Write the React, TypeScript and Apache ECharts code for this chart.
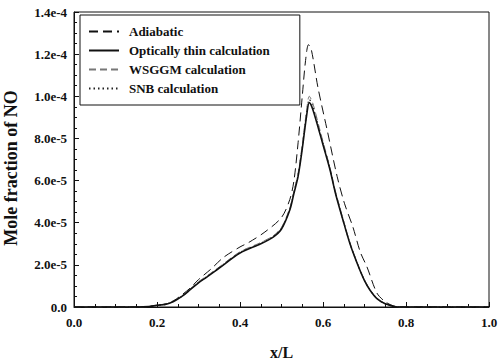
import React, { useEffect, useRef } from "react";
import * as echarts from "echarts";

const seriesNames = [
  "Adiabatic",
  "Optically thin calculation",
  "WSGGM calculation",
  "SNB calculation",
];

const xAdiabatic = [0, 0.15, 0.18, 0.2, 0.22, 0.24, 0.26, 0.28, 0.3, 0.33, 0.36, 0.4, 0.42, 0.46, 0.5, 0.52, 0.53, 0.54, 0.55, 0.558, 0.565, 0.572, 0.588, 0.61, 0.634, 0.652, 0.672, 0.69, 0.706, 0.73, 0.75, 0.77, 0.79, 1.0];
const yAdiabatic = [0, 0, 2e-7, 8e-7, 1.5e-6, 3e-6, 5.8e-6, 9.0e-6, 1.3e-5, 1.8e-5, 2.35e-5, 2.85e-5, 3.05e-5, 3.56e-5, 4.25e-5, 5.1e-5, 6.0e-5, 7.8e-5, 1.0e-4, 1.17e-4, 1.245e-4, 1.22e-4, 1.04e-4, 8.4e-5, 6.2e-5, 4.9e-5, 3.8e-5, 2.6e-5, 1.9e-5, 6.6e-6, 2.5e-6, 5e-7, 0, 0];

const xThin = [0, 0.15, 0.18, 0.2, 0.22, 0.24, 0.26, 0.28, 0.3, 0.32, 0.35, 0.4, 0.45, 0.48, 0.5, 0.52, 0.53, 0.54, 0.55, 0.56, 0.567, 0.575, 0.59, 0.6, 0.617, 0.63, 0.648, 0.665, 0.682, 0.7, 0.713, 0.73, 0.75, 0.77, 0.78, 1.0];
const yThin = [0, 0, 2e-7, 8e-7, 1.2e-6, 2.6e-6, 5e-6, 8.2e-6, 1.15e-5, 1.42e-5, 1.85e-5, 2.56e-5, 3.0e-5, 3.32e-5, 3.7e-5, 4.6e-5, 5.4e-5, 6.2e-5, 7.5e-5, 9.0e-5, 9.7e-5, 9.4e-5, 8.4e-5, 7.7e-5, 6.5e-5, 5.4e-5, 4.13e-5, 3.0e-5, 2.09e-5, 1.25e-5, 8.1e-6, 4e-6, 1.5e-6, 3e-7, 0, 0];

const xWsggm = [0, 0.15, 0.18, 0.2, 0.22, 0.24, 0.26, 0.28, 0.3, 0.32, 0.35, 0.4, 0.45, 0.48, 0.5, 0.52, 0.53, 0.54, 0.55, 0.56, 0.567, 0.575, 0.59, 0.6, 0.617, 0.63, 0.648, 0.665, 0.682, 0.7, 0.713, 0.73, 0.75, 0.77, 0.78, 1.0];
const yWsggm = [0, 0, 2e-7, 8e-7, 1.3e-6, 2.8e-6, 5.3e-6, 8.6e-6, 1.2e-5, 1.47e-5, 1.9e-5, 2.62e-5, 3.06e-5, 3.38e-5, 3.78e-5, 4.7e-5, 5.5e-5, 6.35e-5, 7.7e-5, 9.25e-5, 1.0e-4, 9.7e-5, 8.6e-5, 7.85e-5, 6.6e-5, 5.5e-5, 4.2e-5, 3.05e-5, 2.12e-5, 1.28e-5, 8.3e-6, 4.1e-6, 1.6e-6, 3e-7, 0, 0];

const xSnb = [0, 0.15, 0.18, 0.2, 0.22, 0.24, 0.26, 0.28, 0.3, 0.32, 0.35, 0.4, 0.45, 0.48, 0.5, 0.52, 0.53, 0.54, 0.55, 0.56, 0.567, 0.575, 0.59, 0.6, 0.617, 0.63, 0.648, 0.665, 0.682, 0.7, 0.713, 0.73, 0.75, 0.77, 0.78, 1.0];
const ySnb = [0, 0, 2e-7, 8e-7, 1.25e-6, 2.7e-6, 5.1e-6, 8.4e-6, 1.17e-5, 1.44e-5, 1.87e-5, 2.59e-5, 3.03e-5, 3.35e-5, 3.74e-5, 4.65e-5, 5.45e-5, 6.28e-5, 7.6e-5, 9.12e-5, 9.85e-5, 9.55e-5, 8.5e-5, 7.78e-5, 6.55e-5, 5.45e-5, 4.16e-5, 3.02e-5, 2.1e-5, 1.26e-5, 8.2e-6, 4.05e-6, 1.55e-6, 3e-7, 0, 0];

const xTicks = [0, 0.2, 0.4, 0.6, 0.8, 1.0];
const yTicks = [0, 2e-5, 4e-5, 6e-5, 8e-5, 1e-4, 1.2e-4, 1.4e-4];
const xTitle = "x/L";
const yTitle = "Mole fraction of NO";

const pairs = (xs: number[], ys: number[]) => xs.map((x, i) => [x, ys[i]]);

const FONT = "'Liberation Serif', 'Times New Roman', serif";

export default function App() {
  const ref = useRef<HTMLDivElement>(null);
  useEffect(() => {
    if (!ref.current) return;
    const chart = echarts.init(ref.current, undefined, { renderer: "svg" });
    const styles = [
      { type: [9, 5] as any, width: 1, color: "#111" },
      { type: "solid" as any, width: 1.6, color: "#111" },
      { type: [7, 4] as any, width: 1, color: "#777" },
      { type: [1.5, 3] as any, width: 1.2, color: "#222" },
    ];
    const data = [
      pairs(xAdiabatic, yAdiabatic),
      pairs(xThin, yThin),
      pairs(xWsggm, yWsggm),
      pairs(xSnb, ySnb),
    ];
    chart.setOption({
      animation: false,
      backgroundColor: "#fff",
      textStyle: { fontFamily: FONT },
      grid: {
        left: 74,
        right: 11,
        top: 12,
        bottom: 52,
        show: true,
        borderColor: "#111",
        borderWidth: 1,
        containLabel: false,
        outerBoundsMode: "none",
      },
      graphic: [
        {
          type: "text",
          x: 11,
          y: 168,
          rotation: Math.PI / 2,
          style: {
            text: yTitle,
            fontFamily: FONT,
            fontWeight: "bold",
            fontSize: 18,
            fill: "#111",
            align: "center",
            verticalAlign: "middle",
          },
        },
      ],
      legend: {
        orient: "vertical",
        left: 80,
        top: 15,
        data: seriesNames,
        itemWidth: 30,
        itemHeight: 10,
        itemGap: 6,
        padding: [10, 30, 10, 8],
        borderColor: "#111",
        borderWidth: 1,
        backgroundColor: "#fff",
        itemStyle: { opacity: 0 },
        textStyle: {
          fontFamily: FONT,
          fontWeight: "bold",
          fontSize: 13,
          color: "#111",
          padding: [0, 0, 0, 5],
        },
      },
      xAxis: {
        type: "value",
        min: xTicks[0],
        max: xTicks[xTicks.length - 1],
        interval: 0.2,
        name: xTitle,
        nameLocation: "middle",
        nameGap: 37,
        nameTextStyle: { fontFamily: FONT, fontWeight: "bold", fontSize: 16, color: "#111" },
        axisLine: { lineStyle: { color: "#111" } },
        axisTick: { inside: true, length: 5, lineStyle: { color: "#111" } },
        minorTick: { show: true, splitNumber: 4, length: 3, lineStyle: { color: "#111" } },
        splitLine: { show: false },
        axisLabel: {
          fontFamily: FONT,
          fontWeight: "bold",
          fontSize: 13,
          color: "#111",
          margin: 9,
          formatter: (v: number) => v.toFixed(1),
        },
      },
      yAxis: {
        type: "value",
        min: yTicks[0],
        max: yTicks[yTicks.length - 1],
        interval: 2e-5,
        axisLine: { lineStyle: { color: "#111" } },
        axisTick: { inside: true, length: 5, lineStyle: { color: "#111" } },
        minorTick: { show: true, splitNumber: 4, length: 3, lineStyle: { color: "#111" } },
        splitLine: { show: false },
        axisLabel: {
          fontFamily: FONT,
          fontWeight: "bold",
          fontSize: 13,
          color: "#111",
          margin: 7,
          formatter: (v: number) => (Math.abs(v) < 1e-12 ? "0.0" : v.toExponential(1)),
        },
      },
      series: seriesNames.map((name, i) => ({
        name,
        type: "line",
        data: data[i],
        smooth: 0.3,
        symbol: "none",
        showSymbol: false,
        lineStyle: styles[i],
        itemStyle: { color: styles[i].color },
        z: 4 - i,
      })),
    });
    return () => chart.dispose();
  }, []);
  return <div ref={ref} style={{ width: 500, height: 359, position: "absolute", left: 0, top: 0 }} />;
}
